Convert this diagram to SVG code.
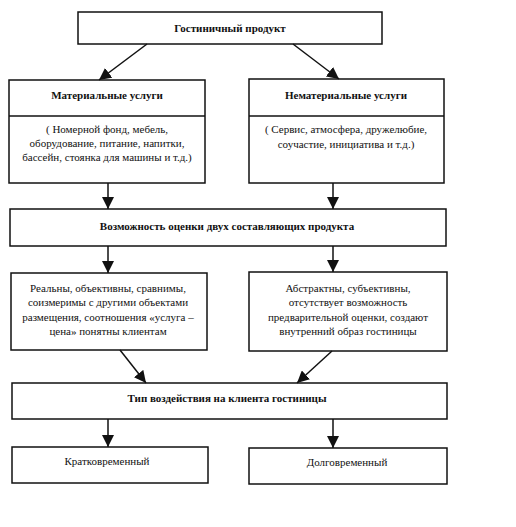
<svg xmlns="http://www.w3.org/2000/svg" width="516" height="527" viewBox="0 0 516 527">
<style>
.box{fill:#fff;stroke:#111;stroke-width:1.5}
.t{font-family:"Liberation Serif","DejaVu Serif","Times New Roman",serif;font-size:11px;fill:#111;text-anchor:middle}
.b{font-weight:bold}
.c{stroke:#111;stroke-width:1.5;fill:none}
</style>
<defs>
<marker id="ah" viewBox="0 0 10 10" refX="10" refY="5" markerWidth="12" markerHeight="12" markerUnits="userSpaceOnUse" orient="auto">
<path d="M0,0 L10,5 L0,10 Z" fill="#111"/>
</marker>
</defs>
<rect width="516" height="527" fill="#fff"/>
<g id="n1"><rect class="box" x="78" y="12" width="304" height="32"/><text class="t b" x="230" y="32">Гостиничный продукт</text></g>
<g id="n2"><rect class="box" x="9" y="80" width="196" height="103"/><line class="c" x1="9" y1="116" x2="205" y2="116"/><text class="t b" x="107" y="99">Материальные услуги</text>
<text class="t" x="107" y="133">( Номерной фонд, мебель,</text><text class="t" x="107" y="147">оборудование, питание, напитки,</text><text class="t" x="107" y="161">бассейн, стоянка для машины и т.д.)</text></g>
<g id="n3"><rect class="box" x="249" y="79" width="195" height="104"/><line class="c" x1="249" y1="116" x2="444" y2="116"/><text class="t b" x="346" y="99">Нематериальные услуги</text>
<text class="t" x="346" y="133">( Сервис, атмосфера, дружелюбие,</text><text class="t" x="346" y="148">соучастие, инициатива и т.д.)</text></g>
<g id="n4"><rect class="box" x="10" y="209" width="436" height="37"/><text class="t b" x="227" y="230">Возможность оценки двух составляющих продукта</text></g>
<g id="n5"><rect class="box" x="11" y="273" width="196" height="77"/>
<text class="t" x="108" y="292">Реальны, объективны, сравнимы,</text><text class="t" x="108" y="306">соизмеримы с другими объектами</text><text class="t" x="108" y="321">размещения, соотношения «услуга –</text><text class="t" x="108" y="335">цена» понятны клиентам</text></g>
<g id="n6"><rect class="box" x="249" y="272" width="198" height="79"/>
<text class="t" x="348" y="292">Абстрактны, субъективны,</text><text class="t" x="348" y="306">отсутствует возможность</text><text class="t" x="348" y="321">предварительной оценки, создают</text><text class="t" x="348" y="335">внутренний образ гостиницы</text></g>
<g id="n7"><rect class="box" x="12" y="383" width="435" height="36"/><text class="t b" x="227" y="402">Тип воздействия на клиента гостиницы</text></g>
<g id="n8"><rect class="box" x="12" y="447" width="196" height="36"/><text class="t" x="107" y="465">Кратковременный</text></g>
<g id="n9"><rect class="box" x="249" y="448" width="198" height="36"/><text class="t" x="347" y="466">Долговременный</text></g>
<g id="connectors">
<line class="c" x1="147" y1="44" x2="99" y2="80" marker-end="url(#ah)"/>
<line class="c" x1="293" y1="44" x2="339" y2="79" marker-end="url(#ah)"/>
<line class="c" x1="108" y1="183" x2="108" y2="209" marker-end="url(#ah)"/>
<line class="c" x1="333" y1="183" x2="333" y2="209" marker-end="url(#ah)"/>
<line class="c" x1="108" y1="246" x2="108" y2="273" marker-end="url(#ah)"/>
<line class="c" x1="333" y1="246" x2="333" y2="272" marker-end="url(#ah)"/>
<line class="c" x1="120" y1="350" x2="146" y2="383" marker-end="url(#ah)"/>
<line class="c" x1="332" y1="351" x2="297" y2="383" marker-end="url(#ah)"/>
<line class="c" x1="108" y1="419" x2="108" y2="447" marker-end="url(#ah)"/>
<line class="c" x1="333" y1="419" x2="333" y2="448" marker-end="url(#ah)"/>
</g>
</svg>
